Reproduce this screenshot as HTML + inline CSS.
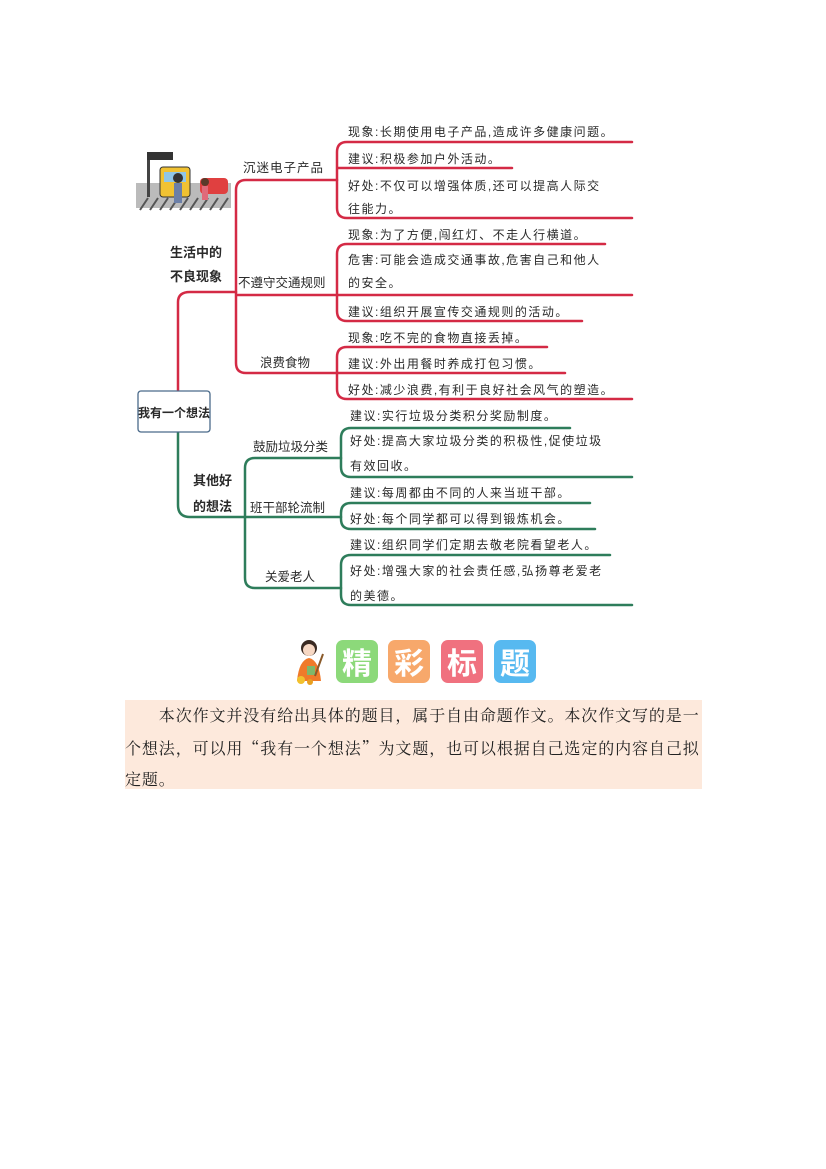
<!DOCTYPE html>
<html><head><meta charset="utf-8"><style>
body{margin:0;background:#fff;width:826px;height:1169px;position:relative;overflow:hidden;font-family:"Liberation Serif","Noto Serif CJK SC",serif}
svg text{font-family:"Liberation Sans","Noto Sans CJK SC",sans-serif;fill:#2a2a2a}
.para{position:absolute;left:125px;top:700px;width:577px;height:89px;background:#fde9dc;font-size:16px;line-height:31px;color:#222;letter-spacing:0.9px;white-space:nowrap}
.q{font-family:"Noto Serif CJK SC",serif}
.t{position:absolute;top:640px;width:42px;height:43px;border-radius:7px;color:#fff;font:bold 30px/43px "Noto Sans CJK SC",sans-serif;text-align:center}
</style></head><body>
<svg width="826" height="640" style="position:absolute;left:0;top:0">
<g fill="none" stroke-width="2.5" stroke-linecap="round">
<g stroke="#d42a45">
<path d="M178 390 V302 Q178 292 190 292 H236"/>
<path d="M236 190 Q236 180 246 180 H337 M236 190 V363 Q236 373 246 373 H337 M236 295 H337"/>
<path d="M337 180 V152 Q337 142 347 142 H632 M337 168 H512 M337 180 V208 Q337 218 347 218 H632"/>
<path d="M337 295 V254 Q337 244 347 244 H605 M337 295 H632 M337 295 V311 Q337 321 347 321 H582"/>
<path d="M337 373 V357 Q337 347 347 347 H547 M337 373 H565 M337 373 V389 Q337 399 347 399 H632"/>
</g>
<g stroke="#2e7d5b">
<path d="M178 432 V505 Q178 517 190 517 H245"/>
<path d="M245 468 Q245 458 255 458 H341 M245 468 V578 Q245 588 255 588 H341 M245 517 H341"/>
<path d="M341 458 V438 Q341 428 351 428 H570 M341 458 V467 Q341 477 351 477 H632"/>
<path d="M341 517 V513 Q341 503 351 503 H590 M341 517 V519 Q341 529 351 529 H595"/>
<path d="M341 588 V565 Q341 555 351 555 H610 M341 588 V595 Q341 605 351 605 H632"/>
</g>
</g>
<rect x="138" y="391" width="72" height="41" rx="3" fill="#fff" stroke="#4a6a8a" stroke-width="1.3"/>
<text x="174" y="417" font-size="12" font-weight="bold" text-anchor="middle">我有一个想法</text>
<g font-size="13" font-weight="bold">
<text x="170" y="257">生活中的</text><text x="170" y="281">不良现象</text>
<text x="193" y="485">其他好</text><text x="193" y="511">的想法</text>
</g>
<g font-size="12.5">
<text x="243" y="172" letter-spacing="1">沉迷电子产品</text>
<text x="238" y="287">不遵守交通规则</text>
<text x="260" y="367">浪费食物</text>
<text x="253" y="451">鼓励垃圾分类</text>
<text x="250" y="512">班干部轮流制</text>
<text x="265" y="581">关爱老人</text>
</g>
<g font-size="12" letter-spacing="1.5">
<text x="348" y="136">现象:长期使用电子产品,造成许多健康问题。</text>
<text x="348" y="163">建议:积极参加户外活动。</text>
<text x="348" y="190">好处:不仅可以增强体质,还可以提高人际交</text>
<text x="348" y="213">往能力。</text>
<text x="348" y="239">现象:为了方便,闯红灯、不走人行横道。</text>
<text x="348" y="264">危害:可能会造成交通事故,危害自己和他人</text>
<text x="348" y="287">的安全。</text>
<text x="348" y="316">建议:组织开展宣传交通规则的活动。</text>
<text x="348" y="342">现象:吃不完的食物直接丢掉。</text>
<text x="348" y="368">建议:外出用餐时养成打包习惯。</text>
<text x="348" y="394">好处:减少浪费,有利于良好社会风气的塑造。</text>
<text x="350" y="420">建议:实行垃圾分类积分奖励制度。</text>
<text x="350" y="445">好处:提高大家垃圾分类的积极性,促使垃圾</text>
<text x="350" y="470">有效回收。</text>
<text x="350" y="497">建议:每周都由不同的人来当班干部。</text>
<text x="350" y="523">好处:每个同学都可以得到锻炼机会。</text>
<text x="350" y="549">建议:组织同学们定期去敬老院看望老人。</text>
<text x="350" y="575">好处:增强大家的社会责任感,弘扬尊老爱老</text>
<text x="350" y="600">的美德。</text>
</g>
<rect x="136" y="183" width="95" height="25" fill="#bbb"/>
<g stroke="#555" stroke-width="2"><path d="M140 210 L148 198 M150 210 L158 198 M160 210 L168 198 M170 210 L178 198 M180 210 L188 198 M190 210 L198 198 M200 210 L208 198 M210 210 L218 198 M220 210 L228 198"/></g>
<rect x="147" y="152" width="3" height="45" fill="#444"/>
<rect x="147" y="152" width="26" height="8" fill="#333"/>
<rect x="160" y="167" width="30" height="30" rx="3" fill="#f1c232" stroke="#333"/>
<rect x="164" y="172" width="22" height="10" fill="#8fc6e8"/>
<rect x="200" y="178" width="28" height="16" rx="4" fill="#e04040"/>
<circle cx="178" cy="178" r="5" fill="#333"/><rect x="174" y="183" width="8" height="20" fill="#6b7fa8"/>
<circle cx="205" cy="182" r="4" fill="#5a3a2a"/><rect x="202" y="186" width="6" height="14" fill="#e06a7a"/>
</svg>
<svg width="50" height="50" style="position:absolute;left:285px;top:636px">
<circle cx="24" cy="12" r="8" fill="#3a2a22"/><circle cx="24" cy="14" r="6" fill="#f7d8c4"/>
<path d="M12 45 Q14 24 24 22 Q34 24 36 45Z" fill="#f07a2a"/>
<rect x="22" y="30" width="8" height="9" fill="#7fb86a"/>
<path d="M38 18 L30 40" stroke="#8a5a2a" stroke-width="2"/>
<circle cx="16" cy="44" r="4" fill="#f2c12e"/><circle cx="25" cy="46" r="3" fill="#e8a020"/>
</svg>
<div class="t" style="left:336px;background:#8cd97a">精</div>
<div class="t" style="left:388px;background:#f7a86b">彩</div>
<div class="t" style="left:441px;background:#f0717f">标</div>
<div class="t" style="left:494px;background:#57b9f0">题</div>
<div class="para"><div style="padding-top:1px">&emsp;&emsp;本次作文并没有给出具体的题目，属于自由命题作文。本次作文写的是一<br>个想法，可以用<span class="q">“</span>我有一个想法<span class="q">”</span>为文题，也可以根据自己选定的内容自己拟<br>定题。</div></div>
</body></html>
